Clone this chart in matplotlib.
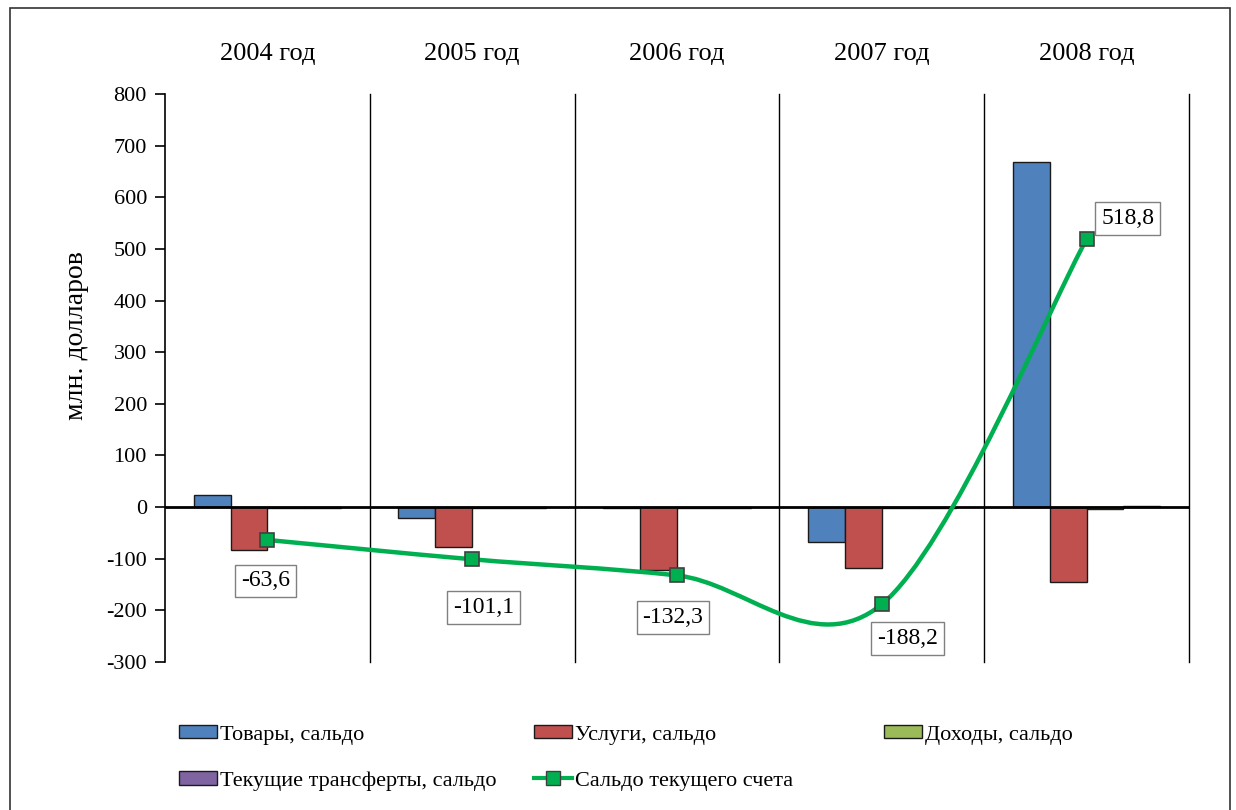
import numpy as np
import matplotlib
matplotlib.use("Agg")
import matplotlib.pyplot as plt
from matplotlib.path import Path
from matplotlib.patches import PathPatch, Rectangle
from matplotlib.lines import Line2D

plt.rcParams['font.family'] = ['Liberation Serif', 'DejaVu Serif']
plt.rcParams['axes.unicode_minus'] = False

years = ["2004 год", "2005 год", "2006 год", "2007 год", "2008 год"]
goods = [23, -21, -2, -67, 668]
services = [-83, -78, -122, -118, -145]
income = [-2, -1, -2, -1, -4]
transfers = [-1.5, -1, -1.5, -1.5, 2]
current = [-63.6, -101.1, -132.3, -188.2, 518.8]
labels = ["-63,6", "-101,1", "-132,3", "-188,2", "518,8"]
label_offsets = [(-2, -41), (11, -48), (-4, -42), (26, -34), (41, 21)]

fig = plt.figure(figsize=(12.36, 8.10), dpi=100)
ax = fig.add_axes([165 / 1236, 1 - 662 / 810, (1189 - 165) / 1236, (662 - 94) / 810])

# рамка вокруг всей картинки
fig.patches.append(Rectangle((10 / 1236, -0.05), 1220 / 1236, 1.04, transform=fig.transFigure,
                             fill=False, edgecolor='#333333', linewidth=1.2))

x = np.arange(len(years))
w = 0.18
series = [(goods, '#4F81BD', "Товары, сальдо"),
          (services, '#C0504D', "Услуги, сальдо"),
          (income, '#9BBB59', "Доходы, сальдо"),
          (transfers, '#8064A2', "Текущие трансферты, сальдо")]
handles = []
for i, (vals, col, name) in enumerate(series):
    b = ax.bar(x + (i - 1.5) * w, vals, width=w, color=col, edgecolor='#1a1a1a',
               linewidth=1.0, label=name, zorder=2)
    handles.append(b)

# сглаженная линия (как в Excel)
pts = np.column_stack([x, current])
verts = [tuple(pts[0])]
codes = [Path.MOVETO]
n = len(pts)
for i in range(n - 1):
    p0 = pts[i - 1] if i > 0 else pts[i]
    p1 = pts[i]
    p2 = pts[i + 1]
    p3 = pts[i + 2] if i + 2 < n else pts[i + 1]
    c1 = p1 + (p2 - p0) / 6
    c2 = p2 - (p3 - p1) / 6
    verts += [tuple(c1), tuple(c2), tuple(p2)]
    codes += [Path.CURVE4] * 3
ax.add_patch(PathPatch(Path(verts, codes), fill=False, edgecolor='#00B050', linewidth=3.2, zorder=4))
ax.plot(x, current, linestyle='none', marker='s', markersize=10, markerfacecolor='#00B050',
        markeredgecolor='#404040', markeredgewidth=1.2, zorder=5)
line_handle = Line2D([], [], color='#00B050', linewidth=3, marker='s', markersize=10,
                     markerfacecolor='#00B050', markeredgecolor='#404040')

for xi, yi, lab, off in zip(x, current, labels, label_offsets):
    ax.annotate(lab, (xi, yi), xytext=off, textcoords='offset pixels', ha='center', va='center',
                fontsize=17, zorder=6,
                bbox=dict(boxstyle='square,pad=0.25', facecolor='white', edgecolor='#808080', linewidth=1))

ax.set_xlim(-0.5, 4.5)
ax.set_ylim(-300, 800)
ax.set_yticks(np.arange(-300, 801, 100))
ax.tick_params(axis='y', labelsize=16, length=7, width=1.2, direction='out', pad=6)
ax.set_xticks([])
for s in ['top', 'right', 'bottom']:
    ax.spines[s].set_visible(False)
ax.spines['left'].set_linewidth(1.2)
ax.axhline(0, color='black', linewidth=2, zorder=3)
for b in np.arange(0.5, 5, 1):
    ax.axvline(b, color='black', linewidth=1, zorder=1, clip_on=False)

for xi, yr in zip(x, years):
    ax.text(xi, 1.07, yr, transform=ax.get_xaxis_transform(), ha='center', va='center', fontsize=19)

ax.set_ylabel("млн. долларов", fontsize=20)
ax.yaxis.set_label_coords(-0.074, 0.575)

leg_kw = dict(frameon=False, fontsize=16, handlelength=1.7, handleheight=0.55,
              handletextpad=0.15, labelspacing=1.2, borderaxespad=0, borderpad=0)
y_leg = 1 - 725 / 810
l1 = fig.legend([handles[0], handles[3]], [series[0][2], series[3][2]], loc='upper left',
                bbox_to_anchor=(179 / 1236, y_leg), **leg_kw)
l2 = fig.legend([handles[1], line_handle], [series[1][2], "Сальдо текущего счета"], loc='upper left',
                bbox_to_anchor=(534 / 1236, y_leg), **leg_kw)
l3 = fig.legend([handles[2]], [series[2][2]], loc='upper left',
                bbox_to_anchor=(884 / 1236, y_leg), **leg_kw)

fig.savefig("out.png", dpi=100)
